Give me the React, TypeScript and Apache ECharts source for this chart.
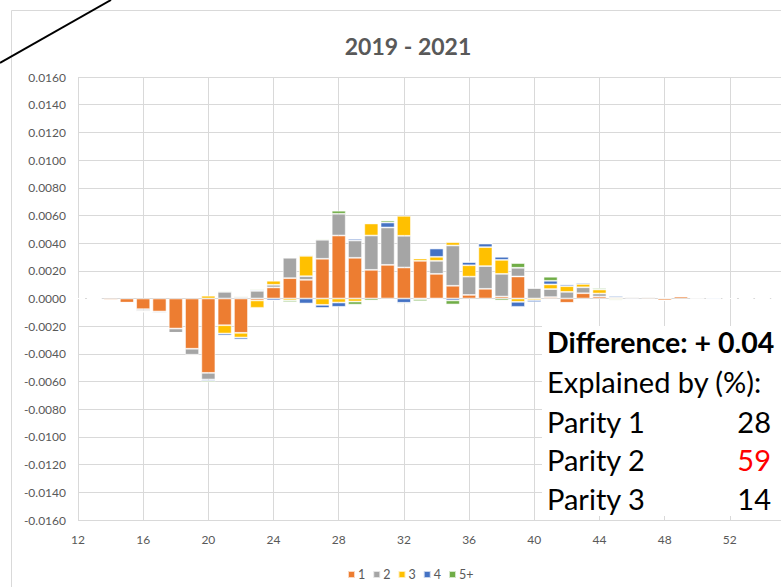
import React, { useEffect, useRef } from "react";
import * as echarts from "echarts";

const ages = [14, 15, 16, 17, 18, 19, 20, 21, 22, 23, 24, 25, 26, 27, 28, 29, 30, 31, 32, 33, 34, 35, 36, 37, 38, 39, 40, 41, 42, 43, 44, 45, 46, 47, 48, 49, 50, 51];
const axisCategories = ["12", "13", "14", "15", "16", "17", "18", "19", "20", "21", "22", "23", "24", "25", "26", "27", "28", "29", "30", "31", "32", "33", "34", "35", "36", "37", "38", "39", "40", "41", "42", "43", "44", "45", "46", "47", "48", "49", "50", "51", "52", "53", "54", "55", "56"];

const parity1 = [-0.0001, -0.0003, -0.00077, -0.00094, -0.00217, -0.00363, -0.00537, -0.00193, -0.00248, -0.00014,
  0.0008, 0.00147, 0.00135, 0.00287, 0.00455, 0.00294, 0.00207, 0.00243, 0.00224, 0.00272,
  0.00178, 0.00092, 0.00026, 0.0007, 0.00014, 0.00159, 0, 0.0001, -0.00031, 0.00038,
  0.00014, 0, 0.00007, 0.00007, -0.00014, 0.00014, 0, 0];
const parity2 = [-0.00005, -0.00003, -0.00012, -0.00012, -0.00031, -0.00043, -0.00048, 0.00048, 0.0001, 0.00055,
  0.00019, 0.00147, 0.00026, 0.00137, 0.00157, 0.00125, 0.00248, 0.0027, 0.00229, -0.00005,
  0.00094, 0.00291, 0.00132, 0.00164, 0.00164, 0.00063, 0.00075, 0.00058, 0.00048, 0.00043,
  0.00022, 0.0001, 0.00007, 0.00007, 0, 0.00003, -0.00007, 0];
const parity3 = [0, 0, -0.00007, 0, 0, -0.00007, 0.0002, -0.0006, -0.00034, -0.00053,
  0.00029, -0.00014, 0.00147, -0.00046, -0.00029, -0.00022, 0.00087, 0, 0.00144, 0.00017,
  0.00029, 0.00024, 0.00082, 0.00137, 0.00101, -0.00024, -0.00012, 0.00034, 0.00041, 0.00024,
  0.00029, -0.00007, 0, 0, 0, 0, 0, 0];
const parity4 = [0, 0, 0, 0, 0, 0, -0.0001, -0.00014, -0.00014, 0.00007,
  -0.00014, 0, -0.00036, -0.00022, -0.00031, 0.00012, 0, 0.00036, -0.00031, 0,
  0.0006, -0.00014, 0.00024, 0.00026, 0.00022, -0.00036, -0.00014, 0.00026, 0.00012, 0.0001,
  0, 0.0001, -0.00007, 0, 0.00005, 0, 0, -0.00007];
const parity5 = [0, 0, 0, 0, 0, 0, -0.0001, 0.00007, 0.00007, 0.00007,
  0, -0.00012, 0.00007, 0.00007, 0.00022, -0.00022, -0.00014, 0.00014, -0.00007, -0.00014,
  -0.00005, -0.00029, 0, 0, -0.00014, 0.00034, 0.00005, 0.00029, -0.00005, 0.00005,
  0.0001, -0.00007, 0, 0.00005, 0, 0.00003, 0, 0];

const seriesNames = ["1", "2", "3", "4", "5+"];
const seriesValues = [parity1, parity2, parity3, parity4, parity5];
const seriesColors = ["#ED7D31", "#A5A5A5", "#FFC000", "#4472C4", "#70AD47"];

const boxTitle = "Difference: + 0.04";
const boxSubtitle = "Explained by (%):";
const boxLabels = ["Parity 1", "Parity 2", "Parity 3"];
const boxValues = ["28", "59", "14"];
const boxValueColors = ["#000000", "#FF0000", "#000000"];

const FONT = "Lato, 'Open Sans', sans-serif";
const CHART_W = 800;

export default function App() {
  const ref = useRef<HTMLDivElement>(null);
  useEffect(() => {
    if (!ref.current) return;
    const chart = echarts.init(ref.current, undefined, { renderer: "svg" });
    const series = seriesNames.map((name, i) => ({
      name,
      type: "bar",
      stack: "all",
      barWidth: 14,
      itemStyle: { color: seriesColors[i], borderColor: "rgba(255,255,255,0.7)", borderWidth: 0.8 },
      data: axisCategories.map((c) => {
        const j = ages.indexOf(Number(c));
        return j >= 0 ? seriesValues[i][j] : 0;
      }),
    }));

    const graphics: any[] = [
      {
        type: "rect",
        shape: { x: 11.5, y: 10.5, width: 820, height: 620 },
        style: { fill: "none", stroke: "#D9D9D9", lineWidth: 1 },
        z: 1,
        silent: true,
      },
      {
        type: "line",
        shape: { x1: 0, y1: 63, x2: 111, y2: 0 },
        style: { stroke: "#000", lineWidth: 2 },
        z: 100,
      },
      {
        type: "rect",
        shape: { x: 542, y: 326, width: 260, height: 190 },
        style: { fill: "#fff" },
        z: 100,
      },
      {
        type: "text",
        x: 547,
        y: 342,
        style: { text: boxTitle, font: `bold 28.5px ${FONT}`, fill: "#000", textVerticalAlign: "middle" },
        z: 101,
      },
      {
        type: "text",
        x: 547,
        y: 381,
        style: { text: boxSubtitle, font: `29px ${FONT}`, fill: "#000", textVerticalAlign: "middle" },
        z: 101,
      },
    ];
    boxLabels.forEach((lab, i) => {
      const y = 421 + i * 38.5;
      graphics.push({
        type: "text",
        x: 547,
        y,
        style: { text: lab, font: `29px ${FONT}`, fill: "#000", textVerticalAlign: "middle" },
        z: 101,
      });
      graphics.push({
        type: "text",
        x: 771,
        y,
        style: { text: boxValues[i], font: `29px ${FONT}`, fill: boxValueColors[i], textAlign: "right", textVerticalAlign: "middle" },
        z: 101,
      });
    });

    chart.setOption({
      animation: false,
      title: {
        text: "2019 - 2021",
        left: 403,
        textAlign: "center",
        top: 29,
        textStyle: { fontFamily: FONT, fontSize: 23, fontWeight: "bold", color: "#595959" },
      },
      legend: {
        data: seriesNames,
        left: 342,
        top: 563,
        orient: "horizontal",
        icon: "rect",
        itemWidth: 7,
        itemHeight: 7,
        itemGap: 7,
        textStyle: { fontFamily: FONT, fontSize: 12.5, color: "#595959", padding: [0, 0, 0, -2] },
      },
      grid: { left: 78, top: 77, right: CHART_W - 795, bottom: 67 },
      xAxis: {
        type: "category",
        data: axisCategories,
        boundaryGap: false,
        axisLine: { show: false },
        axisTick: { show: false },
        axisLabel: {
          interval: 3,
          fontFamily: FONT,
          fontSize: 12,
          color: "#595959",
          margin: 13,
          formatter: (v: string) => (v === "56" ? "" : v),
        },
        splitLine: { show: true, interval: 3, lineStyle: { color: "#D9D9D9", width: 1 } },
      },
      yAxis: {
        type: "value",
        min: -0.016,
        max: 0.016,
        interval: 0.002,
        axisLine: { show: false },
        axisTick: { show: false },
        axisLabel: {
          fontFamily: FONT,
          fontSize: 12,
          color: "#595959",
          margin: 12,
          formatter: (v: number) => v.toFixed(4),
        },
        splitLine: { show: true, lineStyle: { color: "#D9D9D9", width: 1 } },
      },
      series,
      graphic: graphics,
    });
    return () => chart.dispose();
  }, []);
  return (
    <div style={{ position: "fixed", left: 0, top: 0, width: 781, height: 587, overflow: "hidden", background: "#fff" }}>
      <div ref={ref} style={{ width: CHART_W, height: 587 }} />
    </div>
  );
}
